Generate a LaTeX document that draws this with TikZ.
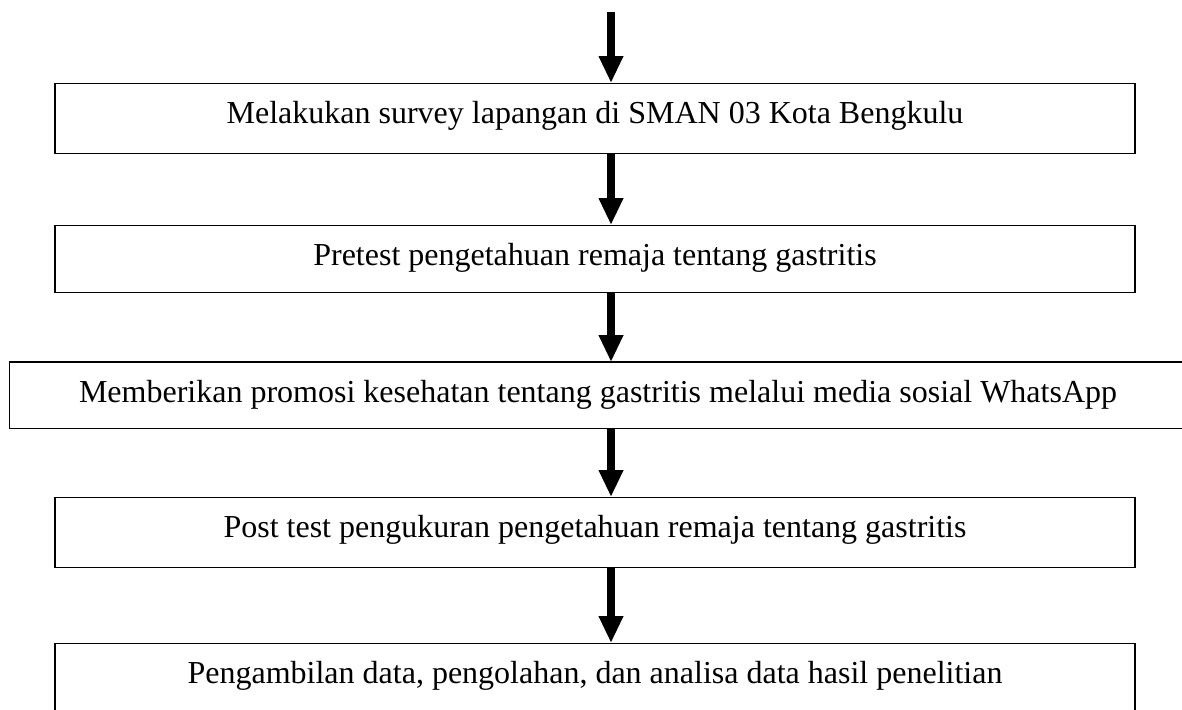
\documentclass[tikz,border=0pt]{standalone}
\usepackage{fontspec}
\setmainfont{Liberation Serif}
\usetikzlibrary{arrows.meta}
\begin{document}
\begin{tikzpicture}[x=0.5pt,y=-0.5pt,
  stepbox/.style={draw=black, line width=0.6pt, inner xsep=0pt, inner ysep=0pt,
    anchor=north, font=\fontsize{16pt}{19pt}\selectfont, text height=20pt},
  boxline/.style={draw=black, line width=0.6pt},
  arr/.style={line width=4pt, -{Triangle[width=11.5pt,length=13.5pt]}}]
\useasboundingbox (0,0) rectangle (1182,709);
\node[stepbox, minimum width=540pt, text depth=15pt] (b1) at (595,83) {Melakukan survey lapangan di SMAN 03 Kota Bengkulu};
\node[stepbox, minimum width=540pt, text depth=13.5pt] (b2) at (595,225) {Pretest pengetahuan remaja tentang gastritis};
\node[stepbox, draw=none, minimum width=588pt, text depth=12.5pt] (b3) at (598,362) {Memberikan promosi kesehatan tentang gastritis melalui media sosial WhatsApp};
\draw[boxline] ([xshift=40]b3.north east) -- (b3.north west) -- (b3.south west) -- ([xshift=40]b3.south east);
\node[stepbox, minimum width=540pt, text depth=15pt] (b4) at (595,497) {Post test pengukuran pengetahuan remaja tentang gastritis};
\node[stepbox, minimum width=540pt, text depth=15pt] (b5) at (595,643) {Pengambilan data, pengolahan, dan analisa data hasil penelitian};
\coordinate (a0) at (611,12);
\draw[arr] (a0) -- (b1.north -| a0);
\draw[arr] (b1.south -| a0) -- (b2.north -| a0);
\draw[arr] (b2.south -| a0) -- (b3.north -| a0);
\draw[arr] (b3.south -| a0) -- (b4.north -| a0);
\draw[arr] (b4.south -| a0) -- (b5.north -| a0);
\end{tikzpicture}
\end{document}
